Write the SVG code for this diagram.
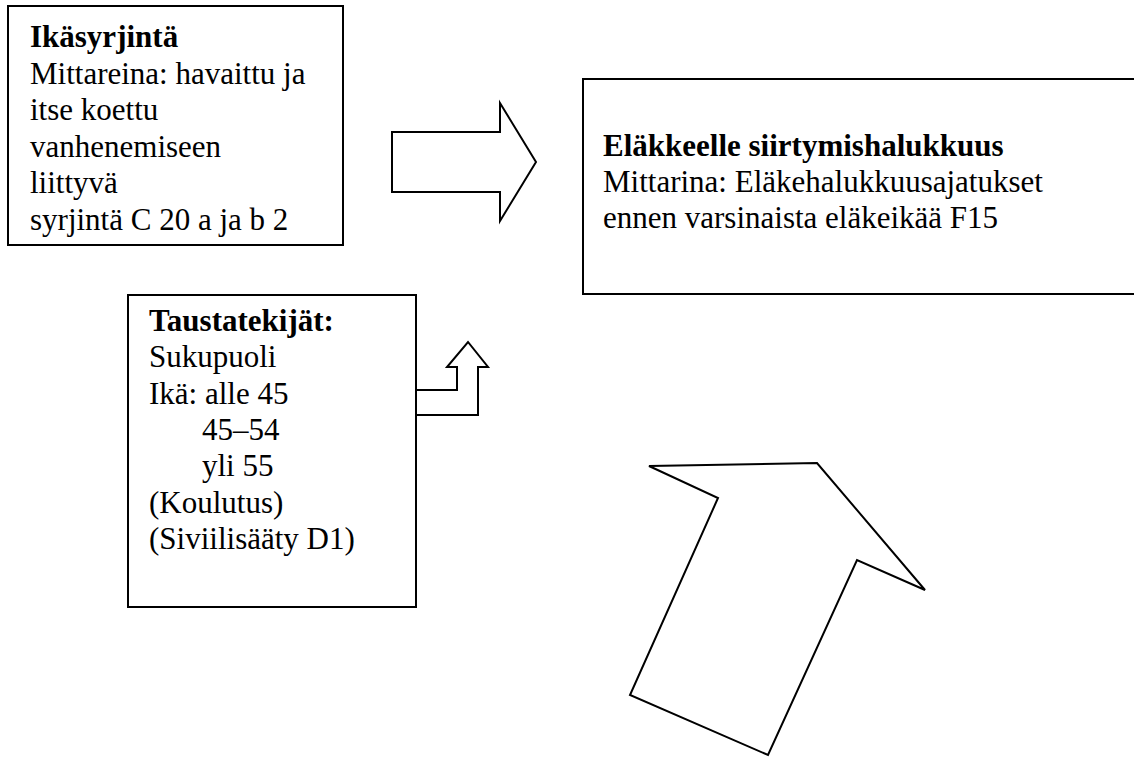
<svg xmlns="http://www.w3.org/2000/svg" width="1134" height="757" viewBox="0 0 1134 757">
<style>
.box{fill:#fff;stroke:#000;stroke-width:2}
.arr{fill:#fff;stroke:#000;stroke-width:2;stroke-linejoin:miter}
text{font-family:"Liberation Serif","Times New Roman",serif;font-size:31px;fill:#000}
.b{font-weight:bold}
</style>
<rect width="1134" height="757" fill="#fff"/>
<g id="ikasyrjinta">
<rect class="box" x="8" y="6" width="335" height="239"/>
<text x="30" y="47" class="b">Ikäsyrjintä</text>
<text x="30" y="83.6">Mittareina: havaittu ja</text>
<text x="30" y="120.2">itse koettu</text>
<text x="30" y="156.8">vanhenemiseen</text>
<text x="30" y="193.4">liittyvä</text>
<text x="30" y="230">syrjintä C 20 a ja b 2</text>
</g>
<g id="elakehalukkuus">
<rect class="box" x="583" y="79" width="560" height="215"/>
<text x="603" y="156" class="b">Eläkkeelle siirtymishalukkuus</text>
<text x="603" y="192">Mittarina: Eläkehalukkuusajatukset</text>
<text x="603" y="228">ennen varsinaista eläkeikää F15</text>
</g>
<g id="taustatekijat">
<rect class="box" x="128" y="295" width="288" height="312"/>
<text x="149" y="331" class="b">Taustatekijät:</text>
<text x="149" y="367.3">Sukupuoli</text>
<text x="149" y="403.6">Ikä: alle 45</text>
<text x="202" y="439.9">45–54</text>
<text x="202" y="476.2">yli 55</text>
<text x="149" y="512.5">(Koulutus)</text>
<text x="149" y="548.8">(Siviilisääty D1)</text>
</g>
<g id="connectors">
<polygon class="arr" points="392,132 500,132 500,103 536,162 500,221 500,192 392,192"/>
<polygon class="arr" points="416,390 457,390 457,367 447,367 468,342 488,367 478,367 478,415 416,415"/>
<polygon class="arr" points="649,466 817,463 925,590 857,560 768,755 630,695 718,498"/>
</g>
</svg>
